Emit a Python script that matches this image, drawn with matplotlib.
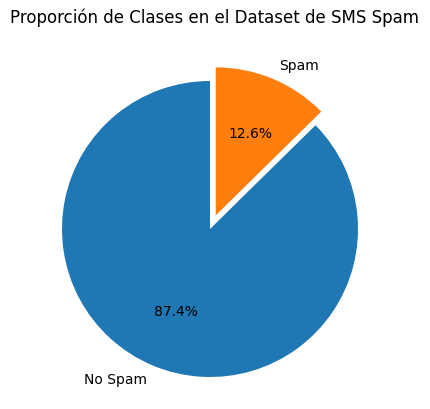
import matplotlib
matplotlib.use("Agg")
import matplotlib.pyplot as plt

labels = ["No Spam", "Spam"]
counts = [4516, 653]
explode = [0, 0.1]

W, H = 430, 410
R = 148.0
cx, cy = 210.0, 410 - 230.0
fig = plt.figure(figsize=(W / 100, H / 100), dpi=100)
half = 1.25
ax = fig.add_axes([(cx - half * R) / W, (cy - 1.2 * R) / H, 2 * half * R / W, 2 * half * R / H])
ax.pie(counts, labels=labels, autopct="%1.1f%%", startangle=90, explode=explode,
       colors=["#1f77b4", "#ff7f0e"])
ax.set_xlim(-half, half)
ax.set_ylim(-1.2, 1.3)
fig.text(0.5, 1 - 18 / H, "Proporción de Clases en el Dataset de SMS Spam",
         ha="center", va="center", fontsize=12)
fig.savefig("out.png", dpi=100)
